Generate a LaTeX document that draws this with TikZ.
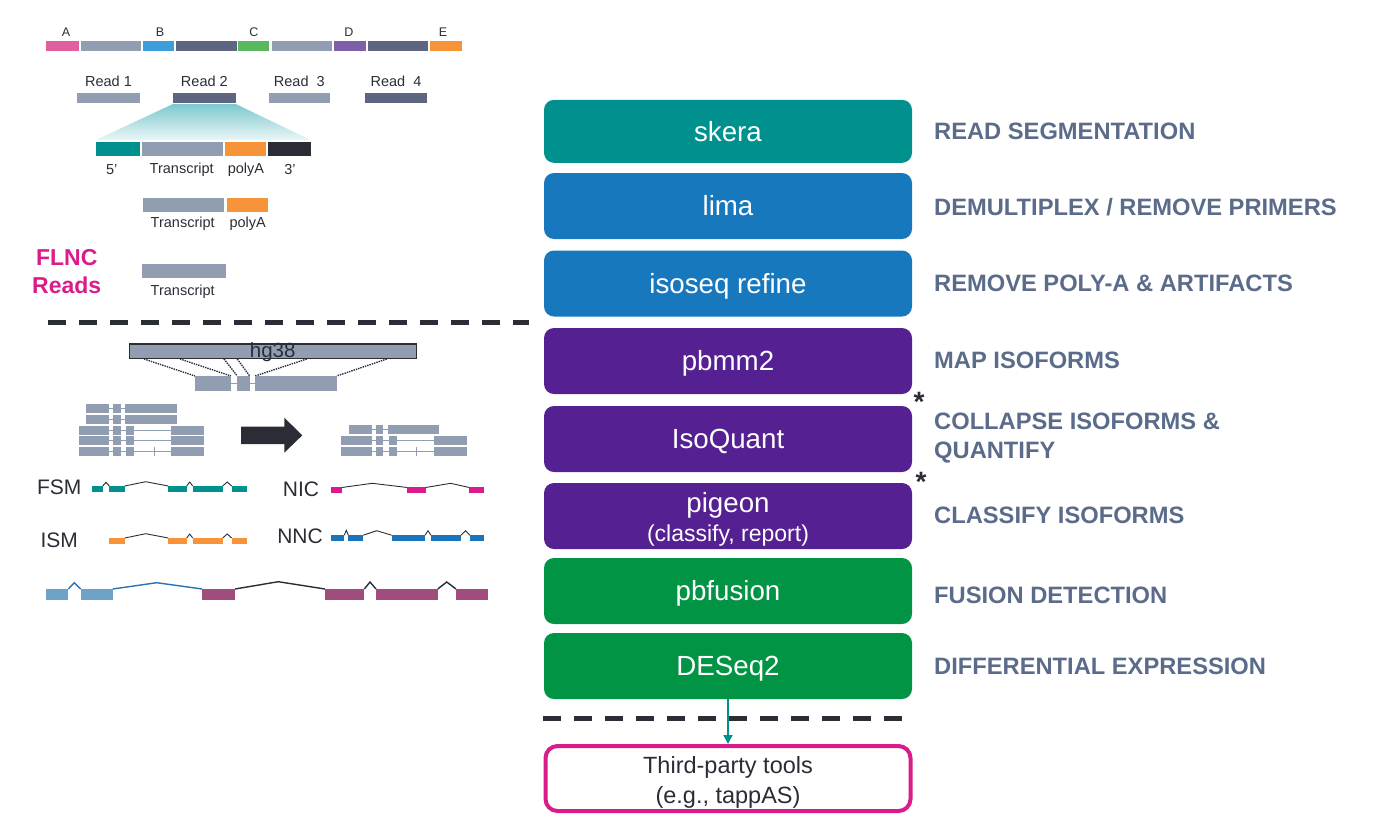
\documentclass[tikz,border=0pt]{standalone}
\usepackage{fontspec}
\setmainfont{Liberation Sans}
\usetikzlibrary{arrows.meta}

\definecolor{skteal}{HTML}{00918F}
\definecolor{lmblue}{HTML}{1878BE}
\definecolor{pbpurple}{HTML}{552192}
\definecolor{fsgreen}{HTML}{009444}
\definecolor{stepgray}{HTML}{5B6B8A}
\definecolor{flmag}{HTML}{D91C8A}
\definecolor{inkdark}{HTML}{2A2D36}
\definecolor{segpink}{HTML}{E0609F}
\definecolor{seggray}{HTML}{919DB0}
\definecolor{segblue}{HTML}{3D9DDB}
\definecolor{segslate}{HTML}{5E6580}
\definecolor{seggreen}{HTML}{5AB95C}
\definecolor{segpurple}{HTML}{7F5FA8}
\definecolor{segorange}{HTML}{F7943A}
\definecolor{nncblue}{HTML}{1B75BC}
\definecolor{fuslight}{HTML}{6FA2C8}
\definecolor{fusline}{HTML}{2B70B0}
\definecolor{fusplum}{HTML}{A04D7D}

\begin{document}
\begin{tikzpicture}[x=1pt, y=-1pt,
    toolbox/.style={rectangle, rounded corners=10pt, minimum width=368pt, minimum height=66pt,
      inner sep=0pt, text=white, align=center, font=\fontsize{27.7}{29}\selectfont},
    tool/.style={toolbox, text height=19.9pt, text depth=0pt},
    stage/.style={anchor=west, inner sep=0pt, text=stepgray, align=left,
      font=\bfseries\fontsize{23.7}{29}\selectfont},
    tinylabel/.style={inner sep=0pt, text=inkdark, font=\fontsize{14.5}{17}\selectfont},
    clslabel/.style={inner sep=0pt, text=inkdark, font=\fontsize{21}{24}\selectfont},
    cutline/.style={inkdark, line width=5pt, dash pattern=on 18pt off 13pt},
    intron/.style={inkdark, line width=0.9pt},
  ]
  \useasboundingbox (0,0) rectangle (1384,839);

  % pipeline
  \node[tool, fill=skteal, minimum height=63pt] (skera) at (728,131.3) {skera};
  \node[tool, fill=lmblue] (lima) at (728,206) {lima};
  \node[tool, fill=lmblue] (refine) at (728,283.5) {isoseq refine};
  \node[tool, fill=pbpurple] (pbmm) at (728,361) {pbmm2};
  \node[tool, fill=pbpurple] (isoquant) at (728,439) {IsoQuant};
  \node[toolbox, fill=pbpurple, text depth=0pt] (pigeon) at (728,516)
    {\rule{0pt}{22pt}pigeon\\{\fontsize{23}{27}\selectfont(classify, report)}};
  \node[tool, fill=fsgreen] (pbfusion) at (728,591) {pbfusion};
  \node[tool, fill=fsgreen] (deseq) at (728,666) {DESeq2};

  \node[stage] (segm) at (934,131.7) {READ SEGMENTATION};
  \node[stage] (demux) at (934,207) {DEMULTIPLEX / REMOVE PRIMERS};
  \node[stage] (polya) at (934,283) {REMOVE POLY-A \& ARTIFACTS};
  \node[stage] (mapiso) at (934,360.7) {MAP ISOFORMS};
  \node[stage] (collapse) at (934,438.5) {COLLAPSE ISOFORMS \&\\QUANTIFY};
  \node[stage] (classify) at (934,515) {CLASSIFY ISOFORMS};
  \node[stage] (fusion) at (934,595.7) {FUSION DETECTION};
  \node[stage] (diffexp) at (934,666) {DIFFERENTIAL EXPRESSION};

  \node[anchor=base, inner sep=0pt, text=inkdark, font=\bfseries\fontsize{28}{30}\selectfont] (star1) at (919,411) {*};
  \node[anchor=base, inner sep=0pt, text=inkdark, font=\bfseries\fontsize{28}{30}\selectfont] (star2) at (921,491) {*};

  \draw[cutline] (543,718.5) -- (910,718.5);
  \node[draw=flmag, line width=4pt, rounded corners=12pt, minimum width=365pt, minimum height=65pt,
    inner sep=0pt, text=inkdark, align=center, text depth=0pt,
    font=\fontsize{23.5}{30}\selectfont]
    (third) at (728,778.5) {\rule{0pt}{19.6pt}Third-party tools\\(e.g., tappAS)};
  \draw[skteal, line width=1.3pt, -{Triangle[width=9pt,length=9pt]}] (deseq) -- (third);

  % reads
  \foreach \lbl/\xx in {A/66,B/160,C/254,D/349,E/443}
    \node[tinylabel, font=\fontsize{12.5}{15}\selectfont] (gene\lbl) at (\xx,31.7) {\lbl};
  \foreach \xa/\xb/\col in {45.7/79/segpink, 80.7/140.7/seggray, 142.7/174/segblue, 176/236.7/segslate,
      238/269/seggreen, 272/332/seggray, 334/365.7/segpurple, 367.7/428/segslate, 430/461.7/segorange}
    \fill[\col] (\xa,41) rectangle (\xb,51);

  \foreach \nm/\lbl/\xa/\xb/\col in {read1/Read 1/77/140/seggray, read2/Read 2/173/235.7/segslate,
      read3/Read~~3/268.7/330/seggray, read4/Read~~4/365/427/segslate} {
    \node[tinylabel] (\nm) at ({(\xa+\xb)/2},81.7) {\lbl};
    \fill[\col] (\xa,92.7) rectangle (\xb,103.3);
  }

  \shade[top color={rgb,255:red,125;green,201;blue,206}, bottom color={rgb,255:red,234;green,246;blue,247}]
    (173,104) -- (235.7,104) -- (310.7,140) -- (95.7,140) -- cycle;
  \foreach \xa/\xb/\col in {95.7/140/skteal, 142/222.7/seggray, 224.7/265.7/segorange, 267.7/310.7/inkdark}
    \fill[\col] (\xa,141.7) rectangle (\xb,156);
  \node[tinylabel] (fivep) at (111.7,170) {5’};
  \node[tinylabel] (trA) at (181.7,170) {Transcript};
  \node[tinylabel] (polyA) at (246,170) {polyA};
  \node[tinylabel] (threep) at (290,170) {3’};

  \fill[seggray] (143.3,198.3) rectangle (224.3,211.7);
  \fill[segorange] (226.7,198.3) rectangle (268.3,211.7);
  \node[tinylabel] (trB) at (182.7,224) {Transcript};
  \node[tinylabel] (polyB) at (247.7,224) {polyA};

  \node[text=flmag, align=center, inner sep=0pt, font=\bfseries\fontsize{23}{28.7}\selectfont] (flnc) at (66.7,271.7) {FLNC\\Reads};
  \fill[seggray] (141.7,264) rectangle (226,278.3);
  \node[tinylabel] (trC) at (182.7,291.7) {Transcript};

  \draw[cutline] (48,322) -- (529,322);

  % mapping
  \node[draw=inkdark, fill=seggray, line width=1.5pt, minimum width=287pt, minimum height=14.5pt, inner sep=0pt] (hg) at (273,351.2) {};
  \node[text=inkdark, inner sep=0pt, font=\fontsize{20.5}{22}\selectfont] (hglbl) at (272.7,352) {hg38};
  \foreach \xa/\xb in {144/195, 180/231, 224/237.3, 237.3/249.7, 306.7/255, 386.7/336.7}
    \draw[inkdark, densely dotted, line width=1.4pt] (\xa,359) -- (\xb,376);
  \draw[seggray, line width=1pt] (231,383.3) -- (255,383.3);
  \foreach \xa/\xb in {195/231, 237.3/249.7, 255/336.7}
    \fill[seggray] (\xa,376) rectangle (\xb,390.7);

  % collapse
  \foreach \yy in {404,414.6} {
    \draw[seggray, line width=1pt] (109,\yy+4.5) -- (125,\yy+4.5);
    \foreach \xa/\xb in {86/109, 113.3/120.7, 125/176.7}
      \fill[seggray] (\xa,\yy) rectangle (\xb,\yy+9);
  }
  \foreach \yy in {425.6,436.4,447.4} {
    \draw[seggray, line width=1pt] (109,\yy+4.5) -- (171,\yy+4.5);
    \foreach \xa/\xb in {79/109, 113.3/120.7, 126/133.7, 171/203.7}
      \fill[seggray] (\xa,\yy) rectangle (\xb,\yy+9);
  }
  \draw[seggray, line width=1pt] (154,447.4) -- (154,456.4);

  \fill[inkdark] (241,426.7) -- (284.3,426.7) -- (284.3,417.7) -- (302.3,435.3) -- (284.3,452.7)
    -- (284.3,444) -- (241,444) -- cycle;

  \draw[seggray, line width=1pt] (372.3,429.8) -- (387.7,429.8);
  \foreach \xa/\xb in {349/372.3, 376/383.3, 387.7/439.3}
    \fill[seggray] (\xa,425.3) rectangle (\xb,434.3);
  \foreach \yy in {436.3,447} {
    \draw[seggray, line width=1pt] (372.3,\yy+4.4) -- (434,\yy+4.4);
    \foreach \xa/\xb in {341/372.3, 376/383.3, 389/396.7, 434/466.7}
      \fill[seggray] (\xa,\yy) rectangle (\xb,\yy+8.7);
  }
  \draw[seggray, line width=1pt] (416.7,447) -- (416.7,455.7);

  % classes
  \node[clslabel] (fsm) at (59.3,487.7) {FSM};
  \node[clslabel] (ism) at (59.3,540) {ISM};
  \node[clslabel] (nic) at (301,489.3) {NIC};
  \node[clslabel] (nnc) at (300,536) {NNC};

  \draw[intron] (102.7,486) -- (106,482.3) -- (109.3,486) (124.7,486) -- (145.7,481.7) -- (168.3,486)
    (186.7,486) -- (189.7,482) -- (192.7,486) (222.7,486) -- (227.2,482) -- (231.7,486);
  \foreach \xa/\xb in {92.3/102.7, 109.3/124.7, 168.3/186.7, 192.7/222.7, 231.7/246.7}
    \fill[skteal] (\xa,485.7) rectangle (\xb,492.3);

  \draw[intron] (124.7,538) -- (145.7,533.7) -- (168.3,538) (186.7,538) -- (189.7,534) -- (192.7,538)
    (222.7,538) -- (227.2,534) -- (231.7,538);
  \foreach \xa/\xb in {109.3/124.7, 168.3/186.7, 192.7/222.7, 231.7/246.7}
    \fill[segorange] (\xa,537.7) rectangle (\xb,544);

  \draw[intron] (341.7,487.5) -- (372.3,483.3) -- (407.3,487.5) (425.7,487.5) -- (450.7,483.3) -- (469.3,487.5);
  \foreach \xa/\xb in {331/341.7, 407.3/425.7, 469.3/484.3}
    \fill[flmag] (\xa,487.3) rectangle (\xb,493.3);

  \draw[intron] (344.3,535.2) -- (346.3,530.3) -- (348.3,535.2) (363.3,535.2) -- (376.7,530.7) -- (391.7,535.2)
    (425,535.2) -- (428,530.7) -- (431,535.2) (461,535.2) -- (465.5,530.7) -- (470,535.2);
  \foreach \xa/\xb in {331/344.3, 348.3/363.3, 391.7/425, 431/461, 470/484.3}
    \fill[nncblue] (\xa,535) rectangle (\xb,541);

  % fusion
  \draw[fusline, line width=1.4pt] (68.3,589) -- (74.3,582.7) -- (80.7,589) (112.7,589) -- (156.7,582.7) -- (202.3,589);
  \draw[inkdark, line width=1.4pt] (235,589) -- (278.3,581.7) -- (325,589) (364.3,589) -- (370,582) -- (376,589)
    (437.7,589) -- (446.7,582) -- (456,589);
  \foreach \xa/\xb in {45.7/68.3, 80.7/112.7}
    \fill[fuslight] (\xa,588.7) rectangle (\xb,600);
  \foreach \xa/\xb in {202.3/235, 325/364.3, 376/437.7, 456/487.7}
    \fill[fusplum] (\xa,588.7) rectangle (\xb,600);
\end{tikzpicture}
\end{document}
